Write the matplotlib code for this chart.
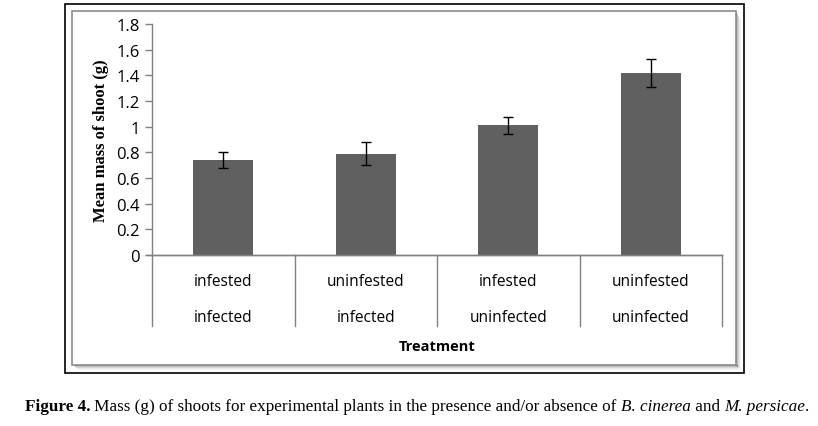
import matplotlib
matplotlib.use("Agg")
import matplotlib.pyplot as plt
from matplotlib.patches import Rectangle
import matplotlib.transforms as mtransforms

infestation = ['infested', 'uninfested', 'infested', 'uninfested']
infection = ['infected', 'infected', 'uninfected', 'uninfected']
mean_mass = [0.74, 0.79, 1.01, 1.42]
err_mass = [0.06, 0.09, 0.065, 0.11]
y_ticks = [0, 0.2, 0.4, 0.6, 0.8, 1, 1.2, 1.4, 1.6, 1.8]

W, H = 818, 427
fig = plt.figure(figsize=(W / 100, H / 100), dpi=100)

def fx(px):
    return px / W

def fy(py):
    return 1 - py / H

# chart frame with shadow on right and bottom
for i, a in enumerate([0.35, 0.25, 0.16, 0.09, 0.04]):
    fig.patches.append(Rectangle((fx(736 + i), fy(366 + i + 1)), fx(1), fy(0) - fy(354 - i),
                                 transform=fig.transFigure, facecolor='black', alpha=a,
                                 edgecolor='none', zorder=0))
    fig.patches.append(Rectangle((fx(72 + i + 2), fy(366 + i + 1)), fx(664 - i), fy(0) - fy(1),
                                 transform=fig.transFigure, facecolor='black', alpha=a,
                                 edgecolor='none', zorder=0))
fig.patches.append(Rectangle((fx(72), fy(366)), fx(664), fy(0) - fy(354),
                             transform=fig.transFigure, facecolor='white',
                             edgecolor='#8c8c8c', lw=1.2, zorder=1))
fig.patches.append(Rectangle((fx(65), fy(374)), fx(679), fy(0) - fy(369),
                             transform=fig.transFigure, facecolor='none',
                             edgecolor='black', lw=1.2, zorder=2))

ax = fig.add_axes([fx(152), fy(256), fx(722) - fx(152), fy(25) - fy(256)], zorder=5)
ax.set_facecolor('none')
x = list(range(len(mean_mass)))
ax.bar(x, mean_mass, width=0.42, color='#606060', zorder=2)
ax.errorbar(x, mean_mass, yerr=err_mass, fmt='none', ecolor='black',
            elinewidth=1, capsize=3.6, capthick=1, zorder=3)

ax.set_xlim(-0.5, 3.5)
ax.set_ylim(0, 1.8)
ax.set_yticks(y_ticks)
ax.set_yticklabels([f'{v:g}' for v in y_ticks], fontsize=12, family='Open Sans')
ax.tick_params(axis='y', length=5, width=1, color='#808080', pad=4)
ax.set_xticks([])
for s in ['top', 'right']:
    ax.spines[s].set_visible(False)
for s in ['left', 'bottom']:
    ax.spines[s].set_color('#808080')
    ax.spines[s].set_linewidth(1)

# category table under the axis
tr = mtransforms.blended_transform_factory(ax.transData, ax.transAxes)
ax.plot([-0.54, 3.5], [0, 0], color='#808080', lw=1, transform=tr, clip_on=False)
for b in [-0.5, 0.5, 1.5, 2.5, 3.5]:
    ax.plot([b, b], [0, -0.307], color='#808080', lw=1, transform=tr, clip_on=False)
for i in x:
    ax.text(i, -0.113, infestation[i], transform=tr, ha='center', va='center',
            fontsize=11.2, family='Open Sans')
    ax.text(i, -0.268, infection[i], transform=tr, ha='center', va='center',
            fontsize=11.2, family='Open Sans')
ax.text(1.5, -0.394, 'Treatment', transform=tr, ha='center', va='center',
        fontsize=10.5, fontweight='bold', family='Open Sans')
ax.set_ylabel('Mean mass of shoot (g)', fontsize=12, fontweight='bold',
              family='Liberation Serif', labelpad=5)

# caption, pieces placed one after another
parts = [('Figure 4.', 'bold', 'normal'),
         (' Mass (g) of shoots for experimental plants in the presence and/or absence of ', 'normal', 'normal'),
         ('B. cinerea', 'normal', 'italic'),
         (' and ', 'normal', 'normal'),
         ('M. persicae', 'normal', 'italic'),
         ('.', 'normal', 'normal')]
fig.canvas.draw()
r = fig.canvas.get_renderer()
x0 = fx(25)
for txt, wt, st in parts:
    t = fig.text(x0, fy(411), txt, fontsize=12.3, family='Liberation Serif',
                 fontweight=wt, fontstyle=st, va='baseline', ha='left')
    bb = t.get_window_extent(renderer=r)
    x0 = bb.x1 / W

plt.savefig('out.png', dpi=100)
